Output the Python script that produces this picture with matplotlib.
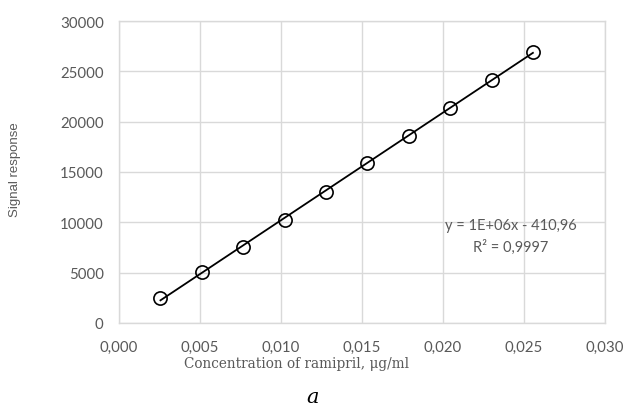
import numpy as np
import matplotlib.pyplot as plt

# calibration data: ramipril concentration (ug/ml) vs detector signal
concentration = [0.00256, 0.00511, 0.00767, 0.01022, 0.01278,
                 0.01533, 0.01789, 0.02044, 0.02300, 0.02555]
signal = [2515, 5040, 7555, 10270, 13050, 15900, 18620, 21370, 24185, 26940]

x_ticks = [0.000, 0.005, 0.010, 0.015, 0.020, 0.025, 0.030]
x_tick_labels = ["0,000", "0,005", "0,010", "0,015", "0,020", "0,025", "0,030"]
y_ticks = [0, 5000, 10000, 15000, 20000, 25000, 30000]

equation_text = "y = 1E+06x - 410,96"
r2_text = "R² = 0,9997"

grid_color = "#d9d9d9"
text_color = "#595959"

fig = plt.figure(figsize=(6.25, 4.1), dpi=100)
ax = fig.add_axes([0.1904, 0.2098, 0.7776, 0.7365])

# linear trend line across the measured range
slope, intercept = np.polyfit(concentration, signal, 1)
x_fit = np.array([concentration[0], concentration[-1]])
ax.plot(x_fit, slope * x_fit + intercept, color="black", linewidth=1.3, zorder=3)
ax.plot(concentration, signal, linestyle="none", marker="o", markersize=9.5,
        markerfacecolor="none", markeredgecolor="black", markeredgewidth=1.2, zorder=4)

ax.set_xlim(0, 0.030)
ax.set_ylim(0, 30000)
ax.set_xticks(x_ticks)
ax.set_xticklabels(x_tick_labels)
ax.set_yticks(y_ticks)
ax.grid(True, color=grid_color, linewidth=1.0)
ax.set_axisbelow(True)
for side in ax.spines.values():
    side.set_color(grid_color)
    side.set_linewidth(1.0)
ax.tick_params(length=0, labelsize=10.8, labelcolor=text_color)
for lbl in ax.get_xticklabels() + ax.get_yticklabels():
    lbl.set_fontfamily("Lato")
ax.tick_params(axis="x", pad=12)
ax.tick_params(axis="y", pad=11)

# regression equation, as printed by the spreadsheet
ax.text(0.02418, 9750, equation_text, ha="center", va="center",
        fontsize=10.5, color=text_color, family="Lato")
ax.text(0.02418, 7600, r2_text, ha="center", va="center",
        fontsize=10.5, color=text_color, family="Lato")

fig.text(297 / 625, 1 - 364 / 410, "Concentration of ramipril, μg/ml",
         ha="center", va="center", fontsize=9.8, color=text_color,
         family="DejaVu Serif")
fig.text(15 / 625, 1 - 170 / 410, "Signal response", rotation=90,
         ha="center", va="center", fontsize=9.5, color=text_color,
         family="Liberation Sans")
fig.text(313 / 625, 1 - 398 / 410, "a", ha="center", va="center",
         fontsize=15, style="italic", color="black", family="DejaVu Serif")

fig.savefig("out.png", dpi=100, facecolor="white")
